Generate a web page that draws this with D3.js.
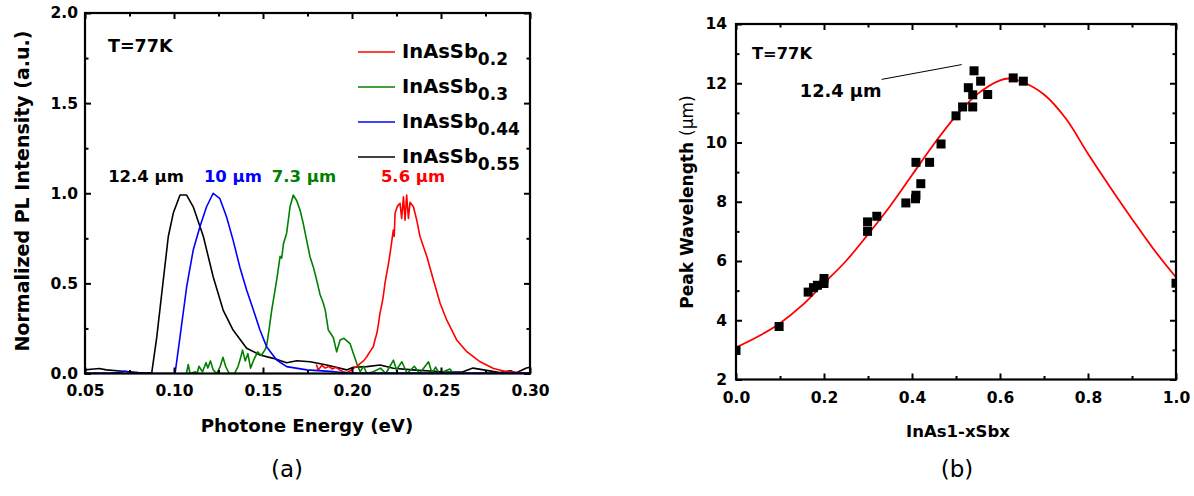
<!DOCTYPE html>
<html>
<head>
<meta charset="utf-8">
<script src="https://cdn.jsdelivr.net/npm/d3@7"></script>
<style>
html,body{margin:0;padding:0;background:#fff;}
svg{display:block;}
text{font-family:"DejaVu Sans",Arial,sans-serif;}
</style>
</head>
<body>
<svg id="chart" width="1194" height="496"></svg>
<script>
// ---------- Panel (a) data: PL spectra [energy eV, normalized intensity] ----------
const sb02 = [[0.180,0.05],[0.181,0.02],[0.183,0.045],[0.185,0.03],[0.187,0.04],[0.189,0.025],[0.191,0.035],[0.193,0.02],[0.195,0.01],[0.197,0.005],[0.199,0.015],[0.201,0.03],[0.203,0.04],[0.2045,0.055],[0.2065,0.07],[0.2083,0.093],[0.210,0.12],[0.212,0.15],[0.213,0.19],[0.2139,0.22],[0.2148,0.27],[0.2157,0.334],[0.2167,0.38],[0.2176,0.43],[0.2185,0.5],[0.2195,0.556],[0.2205,0.61],[0.2214,0.667],[0.2223,0.73],[0.2232,0.796],[0.2237,0.76],[0.2242,0.89],[0.2256,0.93],[0.227,0.944],[0.2279,0.86],[0.2289,0.98],[0.2298,0.85],[0.2307,0.99],[0.2317,0.86],[0.2326,0.95],[0.2345,0.925],[0.2364,0.85],[0.2382,0.76],[0.242,0.65],[0.2457,0.52],[0.2495,0.39],[0.2532,0.297],[0.2588,0.186],[0.2645,0.121],[0.272,0.065],[0.2795,0.028],[0.287,0.01],[0.298,0.003],[0.300,0.003]];
const sb03 = [[0.107,0.0],[0.108,0.05],[0.109,0.0],[0.112,0.01],[0.113,0.0],[0.114,0.04],[0.116,0.01],[0.118,0.06],[0.119,0.03],[0.1205,0.07],[0.122,0.02],[0.124,0.0],[0.126,0.04],[0.1275,0.09],[0.129,0.04],[0.131,0.0],[0.134,0.0],[0.136,0.04],[0.1375,0.09],[0.1385,0.13],[0.140,0.07],[0.1415,0.11],[0.143,0.03],[0.145,0.08],[0.147,0.12],[0.149,0.10],[0.151,0.13],[0.152,0.15],[0.1535,0.25],[0.1549,0.352],[0.1577,0.52],[0.1596,0.65],[0.1605,0.64],[0.1615,0.72],[0.1633,0.78],[0.1652,0.925],[0.167,0.99],[0.1689,0.96],[0.1708,0.907],[0.1726,0.833],[0.1745,0.74],[0.1764,0.648],[0.1783,0.59],[0.1801,0.52],[0.182,0.44],[0.1839,0.39],[0.185,0.35],[0.1867,0.241],[0.1895,0.2],[0.1914,0.12],[0.1933,0.186],[0.1955,0.195],[0.1989,0.166],[0.2008,0.11],[0.2027,0.055],[0.2046,0.01],[0.2065,0.04],[0.2083,0.0],[0.212,0.01],[0.216,0.03],[0.219,0.0],[0.2233,0.074],[0.225,0.02],[0.228,0.065],[0.231,0.0],[0.235,0.04],[0.238,0.0],[0.243,0.065],[0.245,0.0],[0.247,0.035],[0.249,0.0],[0.255,0.025],[0.257,0.0],[0.260,0.0]];
const sb044 = [[0.050,0.003],[0.065,0.003],[0.070,0.006],[0.0725,0.012],[0.076,0.005],[0.080,0.002],[0.090,0.0],[0.1006,0.0],[0.1034,0.204],[0.1071,0.48],[0.1108,0.685],[0.1146,0.815],[0.1183,0.925],[0.122,1.0],[0.1258,0.97],[0.1295,0.87],[0.1332,0.74],[0.137,0.59],[0.1408,0.463],[0.1446,0.352],[0.1483,0.241],[0.152,0.149],[0.1577,0.075],[0.1633,0.038],[0.1746,0.02],[0.1877,0.012],[0.197,0.003],[0.220,0.003],[0.260,0.002],[0.300,0.003]];
const sb055 = [[0.050,0.020],[0.055,0.025],[0.058,0.028],[0.062,0.020],[0.068,0.015],[0.075,0.010],[0.080,0.005],[0.084,0.002],[0.0875,0.005],[0.0903,0.20],[0.094,0.52],[0.0968,0.76],[0.0996,0.89],[0.1034,0.99],[0.1071,0.99],[0.1108,0.925],[0.1165,0.76],[0.122,0.537],[0.1276,0.352],[0.1332,0.241],[0.1408,0.14],[0.1483,0.103],[0.1558,0.084],[0.1633,0.06],[0.169,0.071],[0.1765,0.065],[0.1858,0.047],[0.197,0.02],[0.2008,0.035],[0.2083,0.038],[0.2158,0.047],[0.2232,0.029],[0.234,0.02],[0.250,0.01],[0.262,0.008],[0.268,0.03],[0.274,0.02],[0.283,0.005],[0.289,0.015],[0.292,0.003],[0.298,0.03],[0.300,0.035]];

const seriesNames = ["0.2","0.3","0.44","0.55"];
const seriesColors = ["#ff0000","#008000","#0000ff","#000000"];
const peakLabels = ["5.6 \u03bcm","7.3 \u03bcm","10 \u03bcm","12.4 \u03bcm"];
const peakLabelEnergy = [0.2343,0.1730,0.1331,0.0843];

const energyTicks = [0.05,0.10,0.15,0.20,0.25,0.30];
const intensityTicks = [0.0,0.5,1.0,1.5,2.0];

// ---------- Panel (b) data ----------
const compX =  [0.0, 0.098,0.164,0.176,0.185,0.200,0.200,0.299,0.299,0.320,0.386,0.408,0.409,0.420,0.409,0.440,0.466,0.500,0.515,0.538,0.528,0.538,0.541,0.556,0.572,0.630,0.653,1.0];
const peakWl = [2.98,3.79, 4.95, 5.10, 5.18, 5.24, 5.41, 7.00, 7.32, 7.51, 7.96, 8.10, 8.22, 8.61, 9.33, 9.33, 9.95, 10.90,11.20,11.20,11.85,11.61,12.42,12.07,11.62,12.18,12.07,5.25];
const fitX =  [0.00,0.05,0.10,0.15,0.20,0.25,0.30,0.35,0.40,0.45,0.50,0.55,0.60,0.62,0.65,0.70,0.75,0.80,0.85,0.90,0.95,1.00];
const fitWl = [3.08,3.45,3.90,4.50,5.25,6.00,6.90,7.85,8.90,9.95,10.90,11.65,12.10,12.16,12.05,11.62,10.80,9.62,8.50,7.42,6.38,5.45];
const compTicks = [0.0,0.2,0.4,0.6,0.8,1.0];
const wlTicks = [2,4,6,8,10,12,14];

const svg = d3.select("#chart");
const AX = "#000";
const FONT = "'DejaVu Sans', Arial, sans-serif";

function frame(g, x, y, xMajor, xMinor, yMajor, yMinor, xFmt, yFmt, fs, padX, padY) {
  const [x0,x1] = x.range(), [y0,y1] = y.range();
  const styleAxis = s => {
    s.select(".domain").remove();
    s.selectAll(".tick line").attr("stroke",AX).attr("stroke-width",2);
    s.selectAll(".tick text").attr("font-size",fs).attr("font-weight","bold").attr("fill","#000")
      .attr("font-family",FONT);
  };
  g.append("g").attr("transform",`translate(0,${y0})`)
    .call(d3.axisBottom(x).tickValues(xMajor).tickSize(-6).tickPadding(padX).tickFormat(xFmt)).call(styleAxis);
  g.append("g").attr("transform",`translate(0,${y0})`)
    .call(d3.axisBottom(x).tickValues(xMinor).tickSize(-3.5).tickFormat("")).call(styleAxis);
  g.append("g").attr("transform",`translate(0,${y1})`)
    .call(d3.axisTop(x).tickValues(xMajor).tickSize(-6).tickFormat("")).call(styleAxis);
  g.append("g").attr("transform",`translate(0,${y1})`)
    .call(d3.axisTop(x).tickValues(xMinor).tickSize(-3.5).tickFormat("")).call(styleAxis);
  g.append("g").attr("transform",`translate(${x0},0)`)
    .call(d3.axisLeft(y).tickValues(yMajor).tickSize(-6).tickPadding(padY).tickFormat(yFmt)).call(styleAxis);
  g.append("g").attr("transform",`translate(${x0},0)`)
    .call(d3.axisLeft(y).tickValues(yMinor).tickSize(-3.5).tickFormat("")).call(styleAxis);
  g.append("g").attr("transform",`translate(${x1},0)`)
    .call(d3.axisRight(y).tickValues(yMajor).tickSize(-6).tickFormat("")).call(styleAxis);
  g.append("g").attr("transform",`translate(${x1},0)`)
    .call(d3.axisRight(y).tickValues(yMinor).tickSize(-3.5).tickFormat("")).call(styleAxis);
  g.append("rect").attr("x",x0).attr("y",y1).attr("width",x1-x0).attr("height",y0-y1)
    .attr("fill","none").attr("stroke",AX).attr("stroke-width",2.2);
}

// ================= Panel (a) =================
const xA = d3.scaleLinear().domain([0.05,0.30]).range([85,530]);
const yA = d3.scaleLinear().domain([0,2]).range([373.5,13]);
const gA = svg.append("g");
const defs = svg.append("defs");
defs.append("clipPath").attr("id","clipA").append("rect")
  .attr("x",85).attr("y",13).attr("width",445).attr("height",360.5);

const lineA = d3.line().x(d=>xA(d[0])).y(d=>yA(d[1]));
const plotA = gA.append("g").attr("clip-path","url(#clipA)");
[[sb055,"#000000"],[sb03,"#008000"],[sb02,"#ff0000"],[sb044,"#0000ff"]].forEach(([d,c])=>{
  plotA.append("path").datum(d).attr("d",lineA).attr("fill","none").attr("stroke",c)
    .attr("stroke-width",1.6).attr("stroke-linejoin","round");
});

frame(gA, xA, yA, energyTicks, d3.range(0.075,0.30,0.05), intensityTicks, d3.range(0.25,2,0.5),
  d3.format(".2f"), d3.format(".1f"), 15.5, 11, 7);

// legend
const legend = gA.append("g");
seriesNames.forEach((n,i)=>{
  const yy = 52 + 35*i;
  legend.append("line").attr("x1",358).attr("x2",395).attr("y1",yy).attr("y2",yy)
    .attr("stroke",seriesColors[i]).attr("stroke-width",1.6);
  const t = legend.append("text").attr("x",402).attr("y",yy+6).attr("font-size",19.5).attr("font-weight","bold");
  t.append("tspan").text("InAsSb");
  t.append("tspan").attr("dy",7).attr("font-size",17).text(n);
});

// peak labels
peakLabels.forEach((lab,i)=>{
  gA.append("text").attr("x",xA(peakLabelEnergy[i])).attr("y",yA(1.06))
    .attr("text-anchor","middle").attr("font-size",16.5).attr("font-weight","bold")
    .attr("fill",seriesColors[i]).text(lab);
});
gA.append("text").attr("x",108).attr("y",52).attr("font-size",17.5).attr("font-weight","bold").text("T=77K");

// axis titles
gA.append("text").attr("x",307).attr("y",432).attr("text-anchor","middle").attr("font-size",18.2)
  .attr("font-weight","bold").text("Photone Energy (eV)");
gA.append("text").attr("transform","translate(29,191) rotate(-90)").attr("text-anchor","middle")
  .attr("font-size",19).attr("font-weight","bold").text("Normalized PL Intensity (a.u.)");
gA.append("text").attr("x",287).attr("y",477).attr("text-anchor","middle").attr("font-size",23)
  .attr("font-family","'Open Sans','Noto Sans',sans-serif").text("(a)");

// ================= Panel (b) =================
const xB = d3.scaleLinear().domain([0,1]).range([736,1176]);
const yB = d3.scaleLinear().domain([2,14]).range([379.5,24]);
const gB = svg.append("g");
defs.append("clipPath").attr("id","clipB").append("rect")
  .attr("x",736).attr("y",24).attr("width",440).attr("height",355.5);
const plotB = gB.append("g").attr("clip-path","url(#clipB)");

const fitData = fitX.map((x,i)=>[x,fitWl[i]]);
plotB.append("path").datum(fitData)
  .attr("d", d3.line().x(d=>xB(d[0])).y(d=>yB(d[1])).curve(d3.curveCatmullRom.alpha(0.5)))
  .attr("fill","none").attr("stroke","#ff0000").attr("stroke-width",1.8);

const pts = compX.map((x,i)=>[x,peakWl[i]]);
const sq = 9;
plotB.selectAll("rect.pt").data(pts).join("rect").attr("class","pt")
  .attr("x",d=>xB(d[0])-sq/2).attr("y",d=>yB(d[1])-sq/2).attr("width",sq).attr("height",sq)
  .attr("fill","#000");

frame(gB, xB, yB, compTicks, d3.range(0.1,1,0.2), wlTicks, d3.range(3,14,2),
  d3.format(".1f"), d3.format("d"), 15.5, 12, 9);

gB.append("text").attr("x",752).attr("y",59).attr("font-size",16.3).attr("font-weight","bold").text("T=77K");
gB.append("line").attr("x1",xB(0.331)).attr("y1",yB(12.13)).attr("x2",xB(0.513)).attr("y2",yB(12.63))
  .attr("stroke","#000").attr("stroke-width",1);
gB.append("text").attr("x",xB(0.145)).attr("y",yB(11.55)).attr("font-size",17.8).attr("font-weight","bold").text("12.4 \u03bcm");

gB.append("text").attr("x",958).attr("y",437).attr("text-anchor","middle").attr("font-size",16.5)
  .attr("font-weight","bold").text("InAs1-xSbx");
const yt = gB.append("text").attr("transform","translate(693,202) rotate(-90)").attr("text-anchor","middle")
  .attr("font-size",17).attr("font-weight","bold");
yt.append("tspan").text("Peak Wavelength ");
yt.append("tspan").attr("font-weight","normal").text("(\u03bcm)");
gB.append("text").attr("x",957).attr("y",477).attr("text-anchor","middle").attr("font-size",23)
  .attr("font-family","'Open Sans','Noto Sans',sans-serif").text("(b)");
</script>
</body>
</html>
